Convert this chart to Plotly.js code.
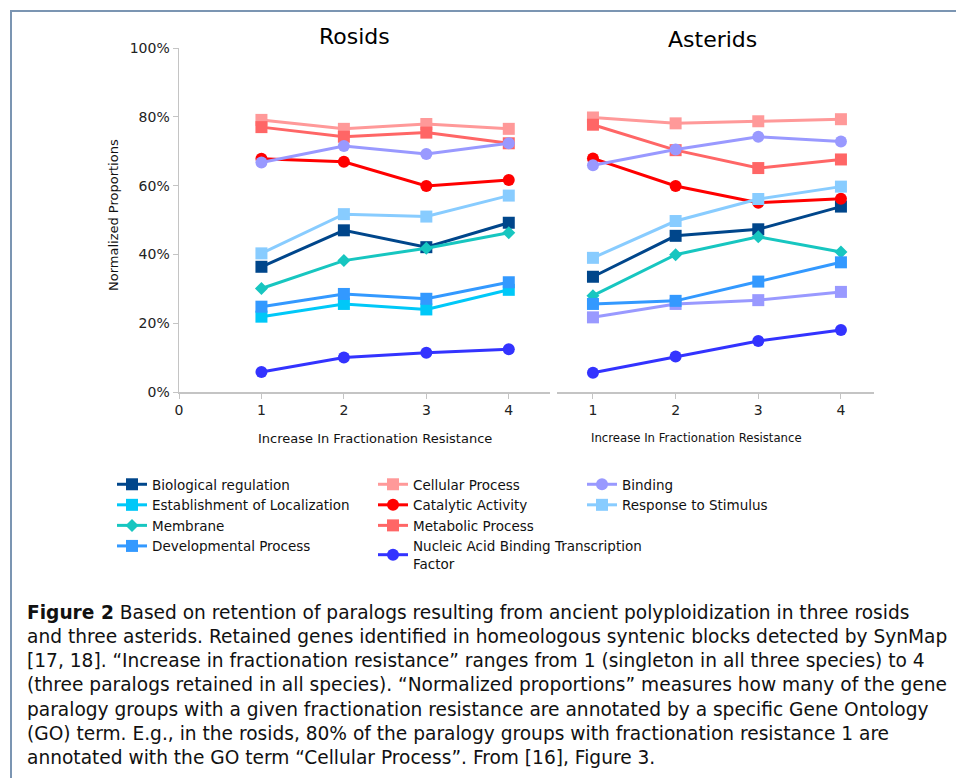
<!DOCTYPE html>
<html><head><meta charset="utf-8">
<script src="https://cdn.plot.ly/plotly-3.0.1.min.js"></script>
<style>
html,body{margin:0;padding:0;background:#fff;}
#wrap{position:relative;width:956px;height:778px;overflow:hidden;}
#frame{position:absolute;left:10px;top:10px;width:960px;height:780px;border-top:2px solid #7b95b2;border-left:2px solid #7b95b2;}
#chart{position:absolute;left:0;top:0;width:956px;height:778px;}
</style></head>
<body><div id="wrap"><div id="frame"></div><div id="chart"></div></div>
<script>
// ---- data ----
const resistance = [1, 2, 3, 4];
const xTicksRosids = [0, 1, 2, 3, 4];
const xTicksAsterids = [1, 2, 3, 4];
const yTicks = [0, 20, 40, 60, 80, 100];
const yTickLabels = ["0%", "20%", "40%", "60%", "80%", "100%"];

const seriesNames = ["Biological regulation", "Establishment of Localization", "Membrane", "Developmental Process",
  "Cellular Process", "Catalytic Activity", "Metabolic Process", "Nucleic Acid Binding Transcription Factor",
  "Binding", "Response to Stimulus"];

// Rosids (%)
const bioRegR    = [36.4, 47.0, 42.1, 49.2];
const estLocR    = [21.9, 25.6, 24.0, 29.7];
const membraneR  = [30.1, 38.2, 41.8, 46.3];
const devProcR   = [24.8, 28.5, 27.1, 31.9];
const cellularR  = [79.1, 76.5, 77.9, 76.5];
const catalyticR = [67.8, 66.9, 59.9, 61.6];
const metabolicR = [77.0, 74.2, 75.4, 72.3];
const nucleicR   = [5.8, 10.0, 11.4, 12.4];
const bindingR   = [66.7, 71.5, 69.2, 72.3];
const responseR  = [40.3, 51.7, 51.0, 57.1];

// Asterids (%)
const bioRegA    = [33.5, 45.4, 47.3, 53.9];
const estLocA    = [21.7, 25.6, 26.7, 29.1];
const membraneA  = [28.0, 39.9, 45.1, 40.7];
const devProcA   = [25.6, 26.5, 32.1, 37.7];
const cellularA  = [79.8, 78.1, 78.7, 79.3];
const catalyticA = [67.9, 59.9, 55.0, 56.2];
const metabolicA = [77.7, 70.3, 65.1, 67.6];
const nucleicA   = [5.6, 10.3, 14.8, 18.0];
const bindingA   = [65.9, 70.5, 74.2, 72.8];
const responseA  = [39.0, 49.7, 56.1, 59.7];

// ---- styles ----
const styles = [
  {color:"#00468b", symbol:"square", leg:"legend"},
  {color:"#00c8f8", symbol:"square", leg:"legend"},
  {color:"#17c6c0", symbol:"diamond", leg:"legend"},
  {color:"#3399ff", symbol:"square", leg:"legend"},
  {color:"#ff9999", symbol:"square", leg:"legend2"},
  {color:"#ff0000", symbol:"circle", leg:"legend2"},
  {color:"#ff6666", symbol:"square", leg:"legend2"},
  {color:"#3333ff", symbol:"circle", leg:"legend2"},
  {color:"#9999ff", symbol:"circle", leg:"legend3"},
  {color:"#88ccff", symbol:"square", leg:"legend3"}
];
const rosids = [bioRegR, estLocR, membraneR, devProcR, cellularR, catalyticR, metabolicR, nucleicR, bindingR, responseR];
const asterids = [bioRegA, estLocA, membraneA, devProcA, cellularA, catalyticA, metabolicA, nucleicA, bindingA, responseA];
// in the Asterids panel, Establishment of Localization is drawn in lavender
const asteridColors = styles.map((s,i)=> i===1 ? "#9999ff" : s.color);

const legendLabels = seriesNames.map(n => n === "Nucleic Acid Binding Transcription Factor" ? "Nucleic Acid Binding Transcription<br>Factor" : n);

const traces = [];
rosids.forEach((vals,i)=>{
  const s = styles[i];
  traces.push({x:resistance, y:vals, type:"scatter", mode:"lines+markers", name:legendLabels[i],
    legend:s.leg, xaxis:"x", yaxis:"y",
    line:{color:s.color, width:3},
    marker:{color:s.color, symbol:s.symbol, size: s.symbol==="diamond"?10:12},
    hoverinfo:"skip"});
});
asterids.forEach((vals,i)=>{
  const s = styles[i];
  traces.push({x:resistance, y:vals, type:"scatter", mode:"lines+markers", name:legendLabels[i],
    showlegend:false, xaxis:"x2", yaxis:"y2",
    line:{color:asteridColors[i], width:3},
    marker:{color:asteridColors[i], symbol:s.symbol, size: s.symbol==="diamond"?10:12},
    hoverinfo:"skip"});
});

const W = 956, H = 778;
const px = v => v / W;
const py = v => 1 - v / H;
const font = "DejaVu Sans, Verdana, sans-serif";

const axisCommon = {showgrid:false, zeroline:false, showline:true, linecolor:"#c4c4c4", linewidth:1.5,
  ticks:"outside", ticklen:5, tickcolor:"#c4c4c4", tickfont:{family:font, size:14, color:"#222"}};

const legCommon = {orientation:"v", xanchor:"left", yanchor:"top", bgcolor:"rgba(0,0,0,0)",
  font:{family:font, size:13.5, color:"#111"}, itemwidth:30, tracegroupgap:0};

const caption = [
  "<b>Figure 2</b> Based on retention of paralogs resulting from ancient polyploidization in three rosids",
  "and three asterids. Retained genes identified in homeologous syntenic blocks detected by SynMap",
  "[17, 18]. “Increase in fractionation resistance” ranges from 1 (singleton in all three species) to 4",
  "(three paralogs retained in all species). “Normalized proportions” measures how many of the gene",
  "paralogy groups with a given fractionation resistance are annotated by a specific Gene Ontology",
  "(GO) term. E.g., in the rosids, 80% of the paralogy groups with fractionation resistance 1 are",
  "annotated with the GO term “Cellular Process”. From [16], Figure 3."
];

const ann = (text, x, y, size, extra) => Object.assign({text:text, x:px(x), y:py(y), xref:"paper", yref:"paper",
  xanchor:"center", yanchor:"middle", showarrow:false, font:{family:font, size:size, color:"#111"}}, extra || {});

const annotations = [
  ann("Rosids", 354, 37, 22, {font:{family:font, size:22, color:"#000"}}),
  ann("Asterids", 712, 40, 22, {font:{family:font, size:22, color:"#000"}}),
  ann("Normalized Proportions", 113, 215, 13, {textangle:-90}),
  ann("Increase In Fractionation Resistance", 375, 438, 13),
  ann("Increase In Fractionation Resistance", 696, 438, 11.7)
];
caption.forEach((t,i)=>{
  annotations.push(ann(t, 25, 612 + i*24.3, 18.6, {xanchor:"left"}));
});

const layout = {
  width:W, height:H, margin:{l:0, r:0, t:0, b:0},
  paper_bgcolor:"rgba(0,0,0,0)", plot_bgcolor:"rgba(0,0,0,0)",
  showlegend:true,
  xaxis:Object.assign({}, axisCommon, {domain:[px(179), px(550)], range:[0, 4.5], tickmode:"array", tickvals:xTicksRosids, anchor:"y"}),
  yaxis:Object.assign({}, axisCommon, {domain:[py(392), py(48)], range:[0, 100], tickmode:"array", tickvals:yTicks, ticktext:yTickLabels, anchor:"x"}),
  xaxis2:Object.assign({}, axisCommon, {domain:[px(557), px(874)], range:[0.565, 4.4], tickmode:"array", tickvals:xTicksAsterids, anchor:"y2"}),
  yaxis2:{domain:[py(392), py(48)], range:[0, 100], visible:false, anchor:"x2"},
  legend:Object.assign({}, legCommon, {x:px(112), y:py(469)}),
  legend2:Object.assign({}, legCommon, {x:px(373), y:py(469)}),
  legend3:Object.assign({}, legCommon, {x:px(582), y:py(469)}),
  annotations:annotations
};

Plotly.newPlot("chart", traces, layout, {displayModeBar:false, staticPlot:true});
</script>
</body></html>
